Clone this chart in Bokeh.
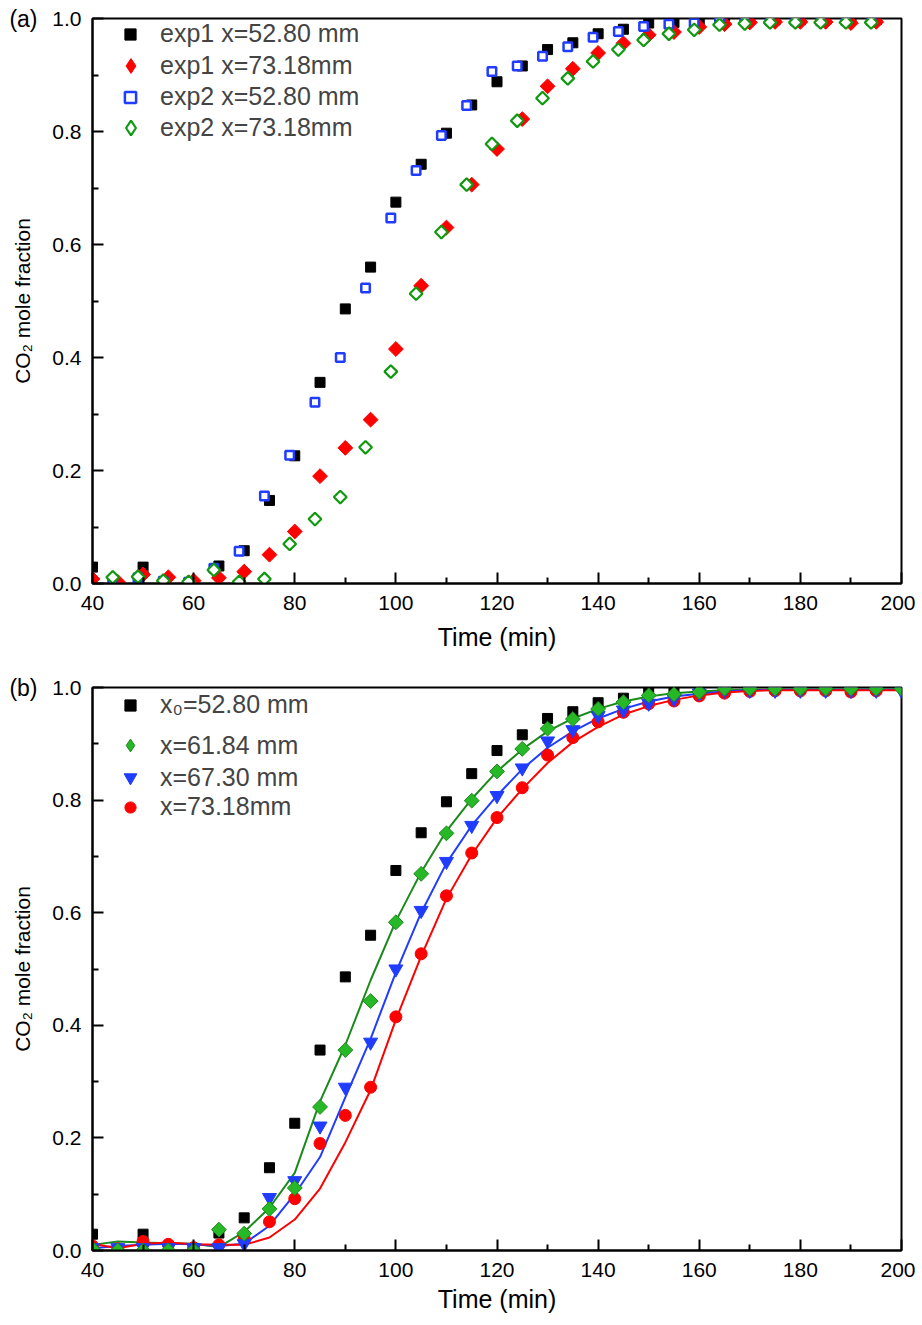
import math
from bokeh.plotting import figure
from bokeh.layouts import column
from bokeh.models import (Range1d, Legend, LegendItem, FixedTicker, PrintfTickFormatter,
                          LinearAxis)
from bokeh.embed import file_html
from bokeh.resources import INLINE

# ---------------- data: panel (a) ----------------
exp1_t_528 = [40, 50, 65, 70, 75, 80, 85, 90, 95, 100, 105, 110, 115, 120, 125, 130, 135, 140,
              145, 150, 155, 160, 165, 170, 175, 180, 185, 190, 195]
exp1_y_528 = [0.029, 0.029, 0.031, 0.058, 0.147, 0.226, 0.356, 0.486, 0.560, 0.675, 0.742, 0.797,
              0.847, 0.888, 0.916, 0.945, 0.957, 0.973, 0.981, 0.992, 0.993, 0.995, 0.997, 0.998,
              0.998, 0.998, 0.998, 0.998, 0.998]

exp1_t_7318 = [40, 45, 50, 55, 60, 65, 70, 75, 80, 85, 90, 95, 100, 105, 110, 115, 120, 125, 130,
               135, 140, 145, 150, 155, 160, 165, 170, 175, 180, 185, 190, 195]
exp1_y_7318 = [0.008, 0.003, 0.016, 0.011, 0.005, 0.010, 0.021, 0.051, 0.092, 0.190, 0.240, 0.290,
               0.415, 0.527, 0.630, 0.706, 0.769, 0.822, 0.880, 0.911, 0.939, 0.956, 0.971, 0.976,
               0.985, 0.990, 0.993, 0.994, 0.994, 0.994, 0.992, 0.994]

exp2_t_528 = [44, 49, 54, 59, 64, 69, 74, 79, 84, 89, 94, 99, 104, 109, 114, 119, 124, 129, 134,
              139, 144, 149, 154, 159, 164, 169, 174, 179, 184, 189, 194]
exp2_y_528 = [0.005, 0.010, 0.004, 0.002, 0.027, 0.057, 0.155, 0.227, 0.321, 0.400, 0.523, 0.647,
              0.731, 0.793, 0.846, 0.906, 0.916, 0.933, 0.950, 0.967, 0.977, 0.986, 0.990, 0.992,
              0.995, 0.996, 0.996, 0.996, 0.996, 0.996, 0.996]

exp2_t_7318 = [44, 49, 54, 59, 64, 69, 74, 79, 84, 89, 94, 99, 104, 109, 114, 119, 124, 129, 134,
               139, 144, 149, 154, 159, 164, 169, 174, 179, 184, 189, 194]
exp2_y_7318 = [0.011, 0.012, 0.005, 0.003, 0.024, 0.003, 0.008, 0.070, 0.114, 0.153, 0.241, 0.375,
               0.513, 0.622, 0.706, 0.778, 0.819, 0.859, 0.894, 0.924, 0.945, 0.962, 0.973, 0.980,
               0.989, 0.991, 0.993, 0.993, 0.993, 0.993, 0.993]

# ---------------- data: panel (b) ----------------
t_b = [40, 45, 50, 55, 60, 65, 70, 75, 80, 85, 90, 95, 100, 105, 110, 115, 120, 125, 130, 135,
       140, 145, 150, 155, 160, 165, 170, 175, 180, 185, 190, 195, 200]

pts_6184 = [0.003, 0.0, 0.0, 0.0, 0.0, 0.037, 0.030, 0.074, 0.111, 0.255, 0.356, 0.443,
            0.583, 0.669, 0.741, 0.799, 0.851, 0.891, 0.927, 0.944, 0.962, 0.974, 0.986, 0.988,
            0.992, 0.998, 0.998, 0.998, 0.998, 0.998, 0.998, 0.998, 0.998]
pts_6730 = [0.005, 0.005, 0.005, 0.005, 0.005, 0.005, 0.012, 0.094, 0.124, 0.221, 0.290, 0.370,
            0.500, 0.604, 0.691, 0.755, 0.808, 0.857, 0.905, 0.925, 0.950, 0.960, 0.972, 0.980,
            0.990, 0.995, 0.995, 0.995, 0.995, 0.995, 0.995, 0.995, 0.995]

model_6184 = [0.010, 0.016, 0.014, 0.013, 0.012, 0.006, 0.033, 0.076, 0.138, 0.265, 0.365, 0.480,
              0.585, 0.672, 0.745, 0.802, 0.851, 0.890, 0.922, 0.945, 0.962, 0.975, 0.984, 0.990,
              0.993, 0.995, 0.996, 0.997, 0.997, 0.997, 0.997, 0.997, 0.997]
model_6730 = [0.004, 0.008, 0.010, 0.012, 0.011, 0.008, 0.012, 0.044, 0.100, 0.166, 0.272, 0.376,
              0.494, 0.600, 0.688, 0.755, 0.808, 0.855, 0.893, 0.922, 0.945, 0.962, 0.975, 0.984,
              0.989, 0.993, 0.995, 0.996, 0.996, 0.996, 0.996, 0.996, 0.996]
model_7318 = [0.012, 0.004, 0.012, 0.014, 0.011, 0.010, 0.010, 0.023, 0.055, 0.110, 0.192, 0.285,
              0.410, 0.523, 0.625, 0.703, 0.768, 0.820, 0.866, 0.903, 0.930, 0.952, 0.967, 0.978,
              0.986, 0.991, 0.994, 0.995, 0.995, 0.995, 0.995, 0.995, 0.995]

x_ticks = [40, 60, 80, 100, 120, 140, 160, 180, 200]
x_minor = [50, 70, 90, 110, 130, 150, 170, 190]
y_ticks = [0.0, 0.2, 0.4, 0.6, 0.8, 1.0]
y_minor = [0.1, 0.3, 0.5, 0.7, 0.9]

FONT = "Liberation Sans"
RED = "#ff0000"
BLUE = "#1f3cff"
GREEN_A = "#0e990e"
GREEN_FILL = "#27b827"
GREEN_LINE = "#1a8a1a"


def base_fig(height, top, bottom, xlabel_standoff, panel_tag):
    p = figure(width=915, height=height, output_backend="svg", toolbar_location=None,
               x_range=Range1d(40, 200), y_range=Range1d(0, 1.0),
               min_border_left=92, min_border_right=14, min_border_top=top,
               min_border_bottom=bottom)
    # off-screen range used only by legend-sample renderers (keeps them out of the frame)
    p.extra_y_ranges = {"legend_only": Range1d(10, 11)}
    p.xgrid.visible = False
    p.ygrid.visible = False
    p.outline_line_color = "black"
    p.outline_line_width = 2
    p.outline_line_alpha = 1
    for ax in (p.xaxis[0], p.yaxis[0]):
        ax.axis_line_width = 2
        ax.major_tick_in = 11
        ax.major_tick_out = 0
        ax.minor_tick_in = 6
        ax.minor_tick_out = 0
        ax.major_tick_line_width = 2
        ax.minor_tick_line_width = 2
        ax.major_label_text_font = FONT
        ax.major_label_text_font_size = "21px"
        ax.major_label_text_color = "black"
        ax.axis_label_text_font = FONT
        ax.axis_label_text_font_style = "normal"
        ax.axis_label_text_color = "black"
    p.xaxis.axis_label_text_font_size = "25px"
    p.xaxis.ticker = FixedTicker(ticks=x_ticks, minor_ticks=x_minor)
    p.yaxis.ticker = FixedTicker(ticks=y_ticks, minor_ticks=y_minor)
    p.xaxis.formatter = PrintfTickFormatter(format="%d")
    p.yaxis.formatter = PrintfTickFormatter(format="%.1f")
    p.xaxis.major_label_standoff = 12
    p.yaxis.major_label_standoff = 11
    p.xaxis.axis_label = "Time (min)"
    p.xaxis.axis_label_standoff = xlabel_standoff

    # outer left axis: carries the panel tag "(a)"/"(b)" at the top and the y-axis title
    tag_axis = LinearAxis(ticker=FixedTicker(ticks=[1.0], minor_ticks=[]),
                          major_label_overrides={1.0: panel_tag},
                          axis_line_color=None, major_tick_line_color=None,
                          minor_tick_line_color=None,
                          major_label_standoff=6, major_label_text_font=FONT,
                          major_label_text_font_size="23px", major_label_text_color="black",
                          axis_label="CO\u2082 mole fraction", axis_label_standoff=-28,
                          axis_label_text_font=FONT, axis_label_text_font_size="21px",
                          axis_label_text_font_style="normal", axis_label_text_color="black")
    p.add_layout(tag_axis, "left")
    return p


def make_legend(items, x, y, glyph, spacing, standoff):
    return Legend(items=items, location=(x, y), padding=0, margin=0, spacing=spacing,
                  glyph_width=glyph, glyph_height=glyph, label_height=20,
                  label_standoff=standoff, label_text_font=FONT, label_text_font_size="25px",
                  label_text_baseline="middle",
                  border_line_color=None, background_fill_alpha=0)


# ---------------- panel (a) ----------------
pa = base_fig(655, 18, 72, 10, "(a)")
r1 = pa.scatter(exp1_t_528, exp1_y_528, marker="square", size=10, color="black")
r2 = pa.scatter(exp1_t_7318, exp1_y_7318, marker="square", angle=math.pi / 4, size=10.5,
                color=RED)
r3 = pa.scatter(exp2_t_528, exp2_y_528, marker="square", size=8.5, fill_color="white",
                line_color=BLUE, line_width=2.5)
r4 = pa.scatter(exp2_t_7318, exp2_y_7318, marker="square", angle=math.pi / 4, size=9,
                fill_color="white", line_color=GREEN_A, line_width=2.2)
# legend samples drawn as diamonds (legend glyphs ignore marker rotation)
l2 = pa.scatter(exp1_t_7318, exp1_y_7318, marker="diamond", color=RED,
                y_range_name="legend_only")
l4 = pa.scatter(exp2_t_7318, exp2_y_7318, marker="diamond", fill_color="white",
                line_color=GREEN_A, line_width=2.2, y_range_name="legend_only")
pa.add_layout(make_legend([LegendItem(label="exp1 x=52.80 mm", renderers=[r1]),
                           LegendItem(label="exp2 x=52.80 mm", renderers=[r3])],
                          24, 472, 28, 34, 16))
pa.add_layout(make_legend([LegendItem(label="exp1 x=73.18mm", renderers=[l2]),
                           LegendItem(label="exp2 x=73.18mm", renderers=[l4])],
                          20, 437, 37, 25, 11))

# ---------------- panel (b) ----------------
pb = base_fig(660, 32, 65, 5, "(b)")
pb.line(t_b, model_6184, line_color=GREEN_LINE, line_width=2)
pb.line(t_b, model_6730, line_color=BLUE, line_width=2)
pb.line(t_b, model_7318, line_color=RED, line_width=2)
s1 = pb.scatter(exp1_t_528, exp1_y_528, marker="square", size=10, color="black")
s4 = pb.scatter(exp1_t_7318, exp1_y_7318, marker="circle", size=12, color=RED)
s3 = pb.scatter(t_b, pts_6730, marker="inverted_triangle", size=14, color=BLUE)
s2 = pb.scatter(t_b, pts_6184, marker="square", angle=math.pi / 4, size=10.5,
                fill_color=GREEN_FILL, line_color=GREEN_LINE, line_width=1)
m2 = pb.scatter(t_b, pts_6184, marker="diamond", fill_color=GREEN_FILL,
                line_color=GREEN_LINE, line_width=1, y_range_name="legend_only")
pb.add_layout(make_legend([LegendItem(label="x\u2080=52.80 mm", renderers=[s1]),
                           LegendItem(label="x=73.18mm", renderers=[s4])],
                          24, 429, 28, 73, 16))
pb.add_layout(make_legend([LegendItem(label="x=61.84 mm", renderers=[m2]),
                           LegendItem(label="x=67.30 mm", renderers=[s3])],
                          22, 457, 32, 0, 14))

layout = column(pa, pb, spacing=0)
open("out.html", "w").write(file_html(layout, INLINE))
